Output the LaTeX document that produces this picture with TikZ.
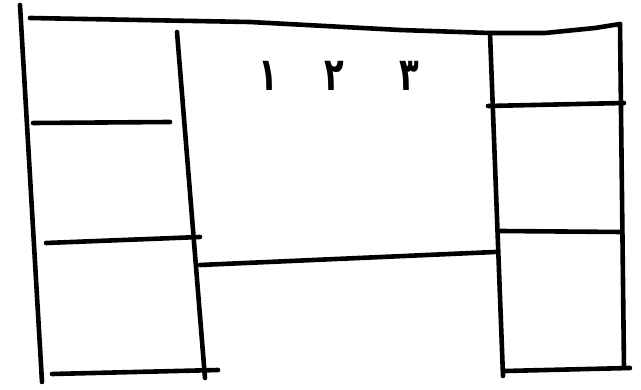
\documentclass[tikz,border=0pt]{standalone}
\usepackage{fontspec}
\newfontfamily\arabicfont[Script=Arabic]{DejaVu Sans}
\TeXXeTstate=1
\begin{document}
\begin{tikzpicture}[x=1pt,y=-1pt,
  pen/.style={line width=4.6pt,line cap=round,line join=round,black},
  digit/.style={font=\arabicfont\bfseries\fontsize{46}{46}\selectfont,inner sep=0pt}]
\useasboundingbox (0,0) rectangle (641,390);
% top
\coordinate (t1) at (30,18);
\coordinate (t2) at (250,22);
\coordinate (t3) at (400,30);
\coordinate (t4) at (490,33);
\coordinate (t5) at (545,33);
\coordinate (t6) at (595,28);
\coordinate (t7) at (620,24);
% left outer
\coordinate (lo1) at (20,5);
\coordinate (lo2) at (42,382);
% left inner
\coordinate (li1) at (177,32);
\coordinate (li2) at (205,378);
% right inner
\coordinate (ri1) at (490,33);
\coordinate (ri2) at (503,376);
% right outer
\coordinate (ro1) at (620,24);
\coordinate (ro2) at (624,368);
% left horizontals
\coordinate (lh1a) at (33,123);
\coordinate (lh1b) at (170,122);
\coordinate (lh2a) at (46,243);
\coordinate (lh2b) at (200,237);
\coordinate (lh3a) at (52,374);
\coordinate (lh3b) at (218,370);
% middle bottom
\coordinate (mba) at (200,265);
\coordinate (mbb) at (495,252);
% right horizontals
\coordinate (rh1a) at (488,106);
\coordinate (rh1b) at (624,103);
\coordinate (rh2a) at (500,231);
\coordinate (rh2b) at (622,232);
\coordinate (rh3a) at (505,371);
\coordinate (rh3b) at (630,368);

\draw[pen] (t1) -- (t2) -- (t3) -- (t4) -- (t5) -- (t6) -- (t7);
\draw[pen] (lo1) -- (lo2);
\draw[pen] (li1) -- (li2);
\draw[pen] (ri1) -- (ri2);
\draw[pen] (ro1) -- (ro2);
\draw[pen] (lh1a) -- (lh1b);
\draw[pen] (lh2a) -- (lh2b);
\draw[pen] (lh3a) -- (lh3b);
\draw[pen] (mba) -- (mbb);
\draw[pen] (rh1a) -- (rh1b);
\draw[pen] (rh2a) -- (rh2b);
\draw[pen] (rh3a) -- (rh3b);

\node[digit] (d1) at (268,76) {\scalebox{0.7}[1]{۱}};
\node[digit] (d2) at (334,76) {\scalebox{0.7}[1]{۲}};
\node[digit] (d3) at (409,76) {\scalebox{0.7}[1]{۳}};
\end{tikzpicture}
\end{document}
